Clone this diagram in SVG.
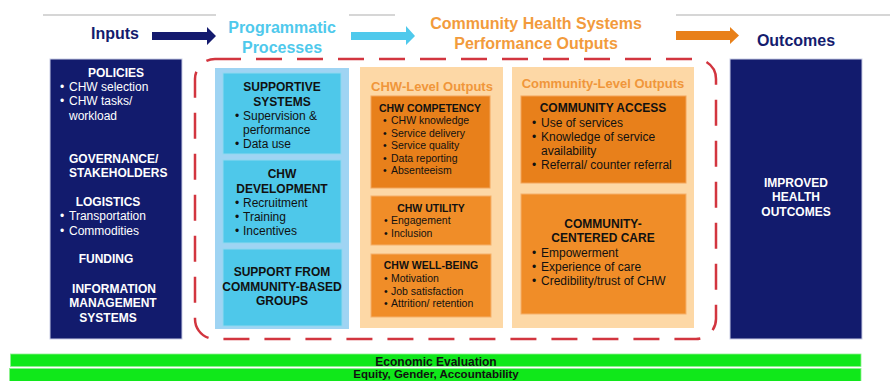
<svg xmlns="http://www.w3.org/2000/svg" width="890" height="381" viewBox="0 0 890 381">
<style>
text{font-family:"Liberation Sans",Arial,sans-serif}
.hd{font-size:16px;font-weight:bold}
.w{fill:#ffffff}
.k{fill:#111111}
.b{font-weight:bold}
.c{text-anchor:middle}
.f12{font-size:12px}
.f105{font-size:10.5px}
.navy{fill:#121b6d;stroke:#c9cde6;stroke-width:1}
.blueo{fill:#9fd4f3}
.bluei{fill:#4ec8ea;stroke:#8fd8f0;stroke-width:1}
.peach{fill:#fdd8a6}
.or1{fill:#e8801b;stroke:#f3a45a;stroke-width:1}
.or2{fill:#f08d28;stroke:#f6b06a;stroke-width:1}
.ottl{fill:#f0963a;font-size:13px;font-weight:bold}
.green{fill:#10e81a;stroke:#8ef090;stroke-width:0.8}
.gl{stroke:#c8c8c8;stroke-width:1.6}
</style>

<g id="rules">
<line class="gl" x1="43" y1="15" x2="216" y2="15"/>
<line class="gl" x1="349" y1="15" x2="395" y2="15"/>
<line class="gl" x1="676" y1="15" x2="890" y2="15"/>
</g>

<g id="headers">
<text class="hd c" x="115" y="39" fill="#141c6e">Inputs</text>
<text class="hd c" x="282" y="33" fill="#4fc9ec">Programmatic</text>
<text class="hd c" x="282" y="53" fill="#4fc9ec">Processes</text>
<text class="hd c" x="536" y="29" fill="#f29b3c">Community Health Systems</text>
<text class="hd c" x="536" y="49" fill="#f29b3c">Performance Outputs</text>
<text class="hd c" x="796" y="46" fill="#141c6e">Outcomes</text>
</g>

<g id="connectors">
<polygon points="152,32 207,32 207,27 216,36 207,45 207,40 152,40" fill="#141a6e"/>
<polygon points="351,32 406,32 406,26 415,36 406,45 406,40 351,40" fill="#4fc9ec"/>
<polygon points="676,31 730,31 730,27 739,35.5 730,44 730,40 676,40" fill="#e8801a"/>
</g>

<rect id="boundary" x="195" y="59" width="521" height="280" rx="20" ry="20" fill="none" stroke="#d2353f" stroke-width="2.5" stroke-dasharray="26 15"/>

<g id="inputs">
<rect class="navy" x="50" y="59" width="132" height="280"/>
<text class="w b c f12" x="116" y="77">POLICIES</text>
<text class="w f12" x="60" y="91">•</text><text class="w f12" x="69" y="91">CHW selection</text>
<text class="w f12" x="60" y="105">•</text><text class="w f12" x="69" y="105">CHW tasks/</text>
<text class="w f12" x="69" y="120">workload</text>
<text class="w b f12" x="69" y="163">GOVERNANCE/</text>
<text class="w b f12" x="69" y="177">STAKEHOLDERS</text>
<text class="w b c f12" x="108" y="206">LOGISTICS</text>
<text class="w f12" x="60" y="220">•</text><text class="w f12" x="69" y="220">Transportation</text>
<text class="w f12" x="60" y="235">•</text><text class="w f12" x="69" y="235">Commodities</text>
<text class="w b c f12" x="106" y="263">FUNDING</text>
<text class="w b c f12" x="114" y="293">INFORMATION</text>
<text class="w b c f12" x="113" y="307">MANAGEMENT</text>
<text class="w b c f12" x="108" y="322">SYSTEMS</text>
</g>

<g id="processes">
<rect class="blueo" x="215" y="68" width="134" height="261"/>
</g>
<g id="supportive-systems">
<rect class="bluei" x="223" y="73" width="118" height="81"/>
<text class="k b c f12" x="282" y="91">SUPPORTIVE</text>
<text class="k b c f12" x="282" y="106">SYSTEMS</text>
<text class="k f12" x="235" y="120">•</text><text class="k f12" x="243" y="120">Supervision &amp;</text>
<text class="k f12" x="243" y="134">performance</text>
<text class="k f12" x="235" y="148">•</text><text class="k f12" x="243" y="148">Data use</text>
</g>
<g id="chw-development">
<rect class="bluei" x="223" y="160" width="118" height="83"/>
<text class="k b c f12" x="282" y="178">CHW</text>
<text class="k b c f12" x="282" y="193">DEVELOPMENT</text>
<text class="k f12" x="235" y="207">•</text><text class="k f12" x="243" y="207">Recruitment</text>
<text class="k f12" x="235" y="221">•</text><text class="k f12" x="243" y="221">Training</text>
<text class="k f12" x="235" y="235">•</text><text class="k f12" x="243" y="235">Incentives</text>
</g>
<g id="community-support">
<rect class="bluei" x="223" y="249" width="119" height="77"/>
<text class="k b c f12" x="282" y="276">SUPPORT FROM</text>
<text class="k b c f12" x="282" y="291">COMMUNITY-BASED</text>
<text class="k b c f12" x="282" y="305">GROUPS</text>
</g>

<g id="chw-level">
<rect class="peach" x="360" y="67" width="143" height="261"/>
<text class="ottl c" x="432" y="91">CHW-Level Outputs</text>
</g>
<g id="chw-competency">
<rect class="or1" x="371" y="96" width="119" height="92"/>
<text class="k b c" x="430" y="112" font-size="10.5px">CHW COMPETENCY</text>
<text class="k f105" x="383" y="124">•</text><text class="k f105" x="391" y="124">CHW knowledge</text>
<text class="k f105" x="383" y="137">•</text><text class="k f105" x="391" y="137">Service delivery</text>
<text class="k f105" x="383" y="149">•</text><text class="k f105" x="391" y="149">Service quality</text>
<text class="k f105" x="383" y="162">•</text><text class="k f105" x="391" y="162">Data reporting</text>
<text class="k f105" x="383" y="174">•</text><text class="k f105" x="391" y="174">Absenteeism</text>
</g>
<g id="chw-utility">
<rect class="or2" x="371" y="196" width="120" height="49"/>
<text class="k b c f105" x="431" y="212">CHW UTILITY</text>
<text class="k f105" x="384" y="224">•</text><text class="k f105" x="391" y="224">Engagement</text>
<text class="k f105" x="384" y="237">•</text><text class="k f105" x="391" y="237">Inclusion</text>
</g>
<g id="chw-wellbeing">
<rect class="or2" x="371" y="254" width="120" height="63"/>
<text class="k b c f105" x="431" y="269">CHW WELL-BEING</text>
<text class="k f105" x="384" y="282">•</text><text class="k f105" x="391" y="282">Motivation</text>
<text class="k f105" x="384" y="295">•</text><text class="k f105" x="391" y="295">Job satisfaction</text>
<text class="k f105" x="384" y="307">•</text><text class="k f105" x="391" y="307">Attrition/ retention</text>
</g>

<g id="community-level">
<rect class="peach" x="512" y="67" width="182" height="261"/>
<text class="ottl c" x="603" y="88">Community-Level Outputs</text>
</g>
<g id="community-access">
<rect class="or1" x="521" y="96" width="165" height="87"/>
<text class="k b c f12" x="603" y="112">COMMUNITY ACCESS</text>
<text class="k f12" x="532" y="127">•</text><text class="k f12" x="541" y="127">Use of services</text>
<text class="k f12" x="532" y="141">•</text><text class="k f12" x="541" y="141">Knowledge of service</text>
<text class="k f12" x="541" y="155">availability</text>
<text class="k f12" x="532" y="169">•</text><text class="k f12" x="541" y="169">Referral/ counter referral</text>
</g>
<g id="community-centered-care">
<rect class="or2" x="521" y="194" width="165" height="120"/>
<text class="k b c f12" x="603" y="228">COMMUNITY-</text>
<text class="k b c f12" x="603" y="242">CENTERED CARE</text>
<text class="k f12" x="532" y="257">•</text><text class="k f12" x="541" y="257">Empowerment</text>
<text class="k f12" x="532" y="271">•</text><text class="k f12" x="541" y="271">Experience of care</text>
<text class="k f12" x="532" y="285">•</text><text class="k f12" x="541" y="285">Credibility/trust of CHW</text>
</g>

<g id="outcomes">
<rect class="navy" x="730" y="59" width="132" height="280"/>
<text class="w b c f12" x="796" y="187">IMPROVED</text>
<text class="w b c f12" x="796" y="201">HEALTH</text>
<text class="w b c f12" x="796" y="216">OUTCOMES</text>
</g>

<g id="economic-evaluation">
<rect class="green" x="10.5" y="354" width="850.5" height="12.5"/>
<text class="k b c f12" x="436" y="365.5">Economic Evaluation</text>
</g>
<g id="equity">
<rect class="green" x="9.5" y="368.5" width="851.5" height="14"/>
<text class="k b c" x="436" y="378.3" font-size="11.5px">Equity, Gender, Accountability</text>
</g>
</svg>
